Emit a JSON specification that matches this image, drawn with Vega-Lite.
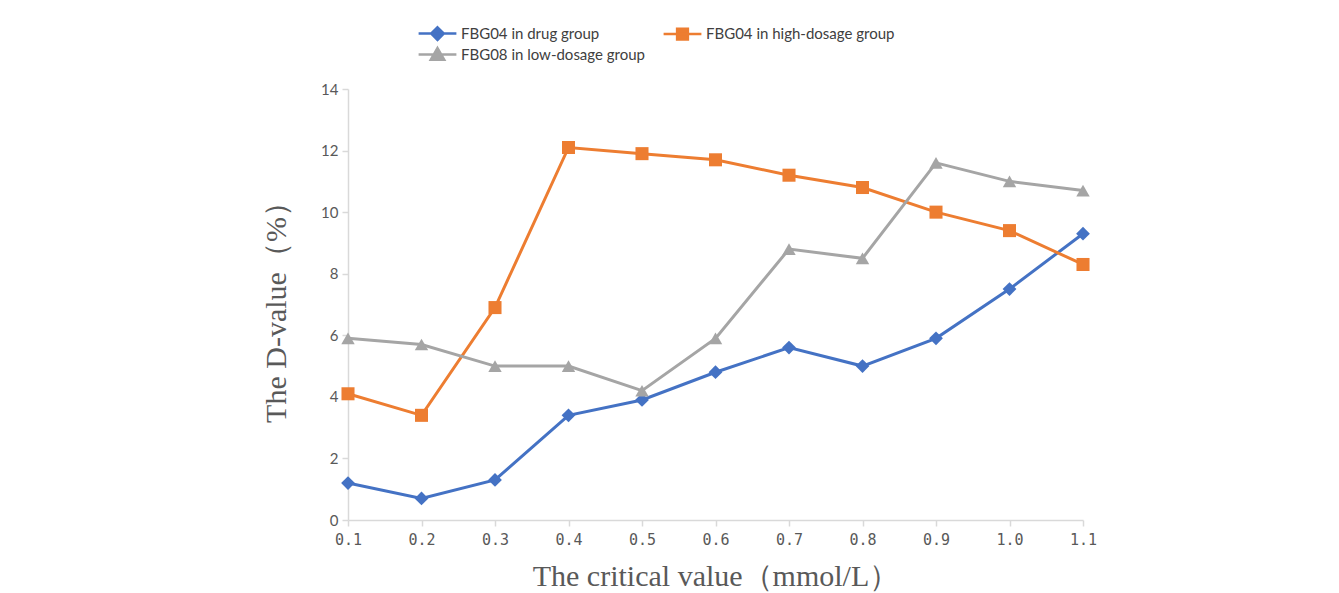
{
  "$schema": "https://vega.github.io/schema/vega-lite/v6.json",
  "width": 735,
  "height": 431,
  "autosize": {"type": "none"},
  "padding": {"left": 348, "top": 89, "right": 256, "bottom": 73},
  "background": "white",
  "config": {
    "view": {"stroke": null},
    "legend": {
      "orient": "none",
      "legendX": 81,
      "legendY": -64,
      "columns": 2,
      "direction": "horizontal",
      "padding": 0,
      "symbolSize": 196,
      "symbolStrokeWidth": 2.5,
      "symbolOpacity": 1,
      "labelFont": "Lato",
      "labelFontSize": 15,
      "labelColor": "#404040",
      "labelOffset": 15,
      "columnPadding": 13,
      "rowPadding": -2,
      "labelLimit": 400
    }
  },
  "data": {
    "values": [
      {"critical": "0.1", "series": "FBG04 in drug group", "d": 1.2},
      {"critical": "0.2", "series": "FBG04 in drug group", "d": 0.7},
      {"critical": "0.3", "series": "FBG04 in drug group", "d": 1.3},
      {"critical": "0.4", "series": "FBG04 in drug group", "d": 3.4},
      {"critical": "0.5", "series": "FBG04 in drug group", "d": 3.9},
      {"critical": "0.6", "series": "FBG04 in drug group", "d": 4.8},
      {"critical": "0.7", "series": "FBG04 in drug group", "d": 5.6},
      {"critical": "0.8", "series": "FBG04 in drug group", "d": 5.0},
      {"critical": "0.9", "series": "FBG04 in drug group", "d": 5.9},
      {"critical": "1.0", "series": "FBG04 in drug group", "d": 7.5},
      {"critical": "1.1", "series": "FBG04 in drug group", "d": 9.3},
      {"critical": "0.1", "series": "FBG04 in high-dosage group", "d": 4.1},
      {"critical": "0.2", "series": "FBG04 in high-dosage group", "d": 3.4},
      {"critical": "0.3", "series": "FBG04 in high-dosage group", "d": 6.9},
      {"critical": "0.4", "series": "FBG04 in high-dosage group", "d": 12.1},
      {"critical": "0.5", "series": "FBG04 in high-dosage group", "d": 11.9},
      {"critical": "0.6", "series": "FBG04 in high-dosage group", "d": 11.7},
      {"critical": "0.7", "series": "FBG04 in high-dosage group", "d": 11.2},
      {"critical": "0.8", "series": "FBG04 in high-dosage group", "d": 10.8},
      {"critical": "0.9", "series": "FBG04 in high-dosage group", "d": 10.0},
      {"critical": "1.0", "series": "FBG04 in high-dosage group", "d": 9.4},
      {"critical": "1.1", "series": "FBG04 in high-dosage group", "d": 8.3},
      {"critical": "0.1", "series": "FBG08 in low-dosage group", "d": 5.9},
      {"critical": "0.2", "series": "FBG08 in low-dosage group", "d": 5.7},
      {"critical": "0.3", "series": "FBG08 in low-dosage group", "d": 5.0},
      {"critical": "0.4", "series": "FBG08 in low-dosage group", "d": 5.0},
      {"critical": "0.5", "series": "FBG08 in low-dosage group", "d": 4.2},
      {"critical": "0.6", "series": "FBG08 in low-dosage group", "d": 5.9},
      {"critical": "0.7", "series": "FBG08 in low-dosage group", "d": 8.8},
      {"critical": "0.8", "series": "FBG08 in low-dosage group", "d": 8.5},
      {"critical": "0.9", "series": "FBG08 in low-dosage group", "d": 11.6},
      {"critical": "1.0", "series": "FBG08 in low-dosage group", "d": 11.0},
      {"critical": "1.1", "series": "FBG08 in low-dosage group", "d": 10.7}
    ]
  },
  "encoding": {
    "x": {
      "field": "critical",
      "type": "ordinal",
      "scale": {"type": "point", "padding": 0},
      "axis": {
        "title": "The critical value（mmol/L）",
        "titleFont": "Liberation Serif",
        "titleFontSize": 30,
        "titleFontWeight": "normal",
        "titleColor": "#595959",
        "titlePadding": 14,
        "labelAngle": 0,
        "labelFont": "DejaVu Sans Mono",
        "labelFontSize": 15,
        "labelColor": "#595959",
        "labelPadding": 6,
        "domainColor": "#d9d9d9",
        "domainWidth": 1.5,
        "tickColor": "#d9d9d9",
        "tickWidth": 1.5,
        "tickSize": 6,
        "grid": false
      }
    },
    "y": {
      "field": "d",
      "type": "quantitative",
      "scale": {"domain": [0, 14], "nice": false},
      "axis": {
        "title": "The D-value（%）",
        "titleFont": "Liberation Serif",
        "titleFontSize": 30,
        "titleFontWeight": "normal",
        "titleColor": "#595959",
        "titlePadding": 29,
        "values": [0, 2, 4, 6, 8, 10, 12, 14],
        "labelFont": "Lato",
        "labelFontSize": 15,
        "labelColor": "#595959",
        "labelPadding": 4,
        "domainColor": "#d9d9d9",
        "domainWidth": 1.5,
        "tickColor": "#d9d9d9",
        "tickWidth": 1.5,
        "tickSize": 6,
        "grid": false
      }
    },
    "color": {
      "field": "series",
      "type": "nominal",
      "scale": {
        "domain": ["FBG04 in drug group", "FBG04 in high-dosage group", "FBG08 in low-dosage group"],
        "range": ["#4472C4", "#ED7D31", "#A5A5A5"]
      },
      "legend": {"title": null}
    }
  },
  "layer": [
    {
      "mark": {"type": "line", "strokeWidth": 3}
    },
    {
      "mark": {"type": "point", "filled": true, "opacity": 0},
      "encoding": {
        "shape": {
          "field": "series",
          "type": "nominal",
          "scale": {
            "domain": ["FBG04 in drug group", "FBG04 in high-dosage group", "FBG08 in low-dosage group"],
            "range": [
              "M-2.7,0L2.7,0M0,-0.9L0.9,0L0,0.9L-0.9,0Z",
              "M-2.7,0L2.7,0M-0.77,-0.77L0.77,-0.77L0.77,0.77L-0.77,0.77Z",
              "M-2.7,0L2.7,0M0,-0.92L0.96,0.74L-0.96,0.74Z"
            ]
          },
          "legend": {"title": null}
        }
      }
    },
    {
      "transform": [{"filter": "datum.series === 'FBG04 in drug group'"}],
      "mark": {"type": "point", "filled": true, "opacity": 1, "size": 190, "shape": "diamond"}
    },
    {
      "transform": [{"filter": "datum.series === 'FBG04 in high-dosage group'"}],
      "mark": {"type": "point", "filled": true, "opacity": 1, "size": 170, "shape": "square"}
    },
    {
      "transform": [{"filter": "datum.series === 'FBG08 in low-dosage group'"}],
      "mark": {"type": "point", "filled": true, "opacity": 1, "size": 180, "shape": "triangle-up"}
    }
  ]
}
